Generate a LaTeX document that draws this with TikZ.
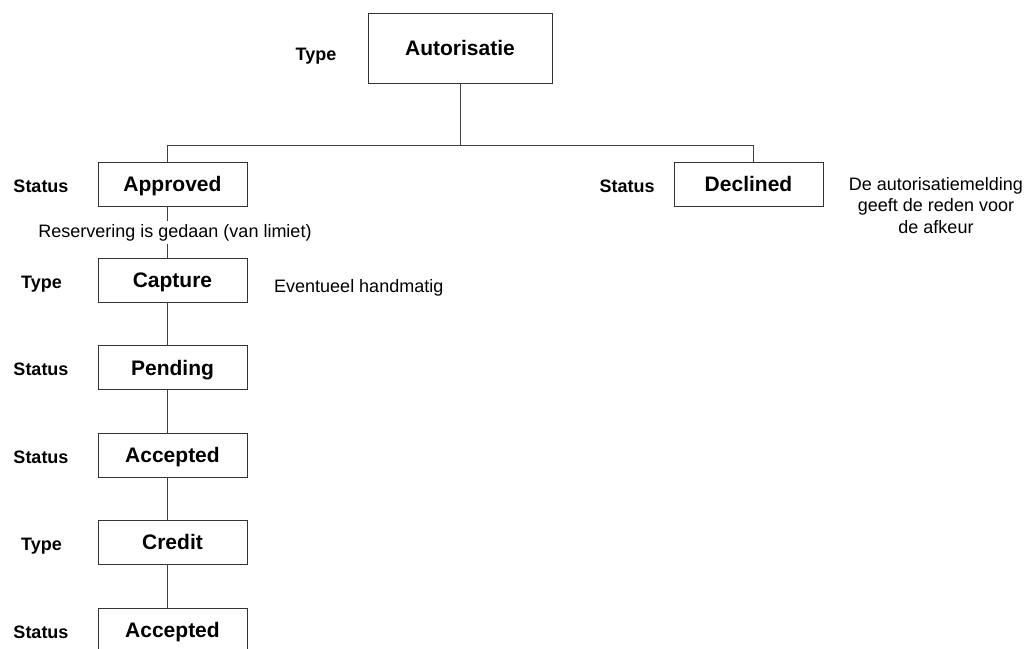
\documentclass[tikz,border=0pt]{standalone}
\usepackage{fontspec}
\setmainfont{Liberation Sans}
\begin{document}
\begin{tikzpicture}[x=1pt,y=-1pt,
  box/.style={draw=black!80, line width=0.9pt, minimum width=149pt, minimum height=44pt,
              inner sep=0pt, text height=15pt, text depth=0pt,
              font=\fontsize{21}{25}\selectfont\bfseries},
  lbl/.style={inner sep=0pt, anchor=base, font=\fontsize{18}{22}\selectfont\bfseries},
  note/.style={inner sep=0pt, font=\fontsize{18}{21.5}\selectfont},
  conn/.style={draw=black!75, line width=0.9pt}]
\useasboundingbox (0,0) rectangle (1028,648);

% boxes
\node[box, minimum width=184pt, minimum height=70pt] (auth) at (460,48) {Autorisatie};
\node[box] (approved) at (172.5,184) {Approved};
\node[box] (declined) at (748.5,184) {Declined};
\node[box] (capture)  at (172.5,280) {Capture};
\node[box] (pending)  at (172.5,367.5) {Pending};
\node[box] (acc1)     at (172.5,455) {Accepted};
\node[box] (credit)   at (172.5,542) {Credit};
\node[box] (acc2)     at (172.5,630) {Accepted};

% labels
\node[lbl] (tAuth) at (316,60) {Type};
\node[lbl] (sAppr) at (41,192) {Status};
\node[lbl] (sDecl) at (627,192) {Status};
\node[lbl] (tCapt) at (41.5,288) {Type};
\node[lbl] (sPend) at (41,375.5) {Status};
\node[lbl] (sAcc1) at (41,463) {Status};
\node[lbl] (tCred) at (41.5,550) {Type};
\node[lbl] (sAcc2) at (41,638) {Status};

% connectors
\coordinate (L) at (167,145);
\coordinate (M) at (460,145);
\coordinate (R) at (753,145);
\draw[conn] (auth.south) -- (M);
\draw[conn] (L) -- (R);
\draw[conn] (L) -- (L |- approved.north);
\draw[conn] (R) -- (R |- declined.north);
\draw[conn] (L |- approved.south) -- (L |- capture.north);
\draw[conn] (L |- capture.south) -- (L |- pending.north);
\draw[conn] (L |- pending.south) -- (L |- acc1.north);
\draw[conn] (L |- acc1.south) -- (L |- credit.north);
\draw[conn] (L |- credit.south) -- (L |- acc2.north);

% notes
\node[note, anchor=base, fill=white, inner ysep=3pt] (nRes) at (175,237) {Reservering is gedaan (van limiet)};
\node[note, anchor=base west] (nEvt) at (274,292) {Eventueel handmatig};
\node[note, anchor=north, align=center] (nDecl) at (936,177)
  {De autorisatiemelding\\geeft de reden voor\\de afkeur};
\end{tikzpicture}
\end{document}
